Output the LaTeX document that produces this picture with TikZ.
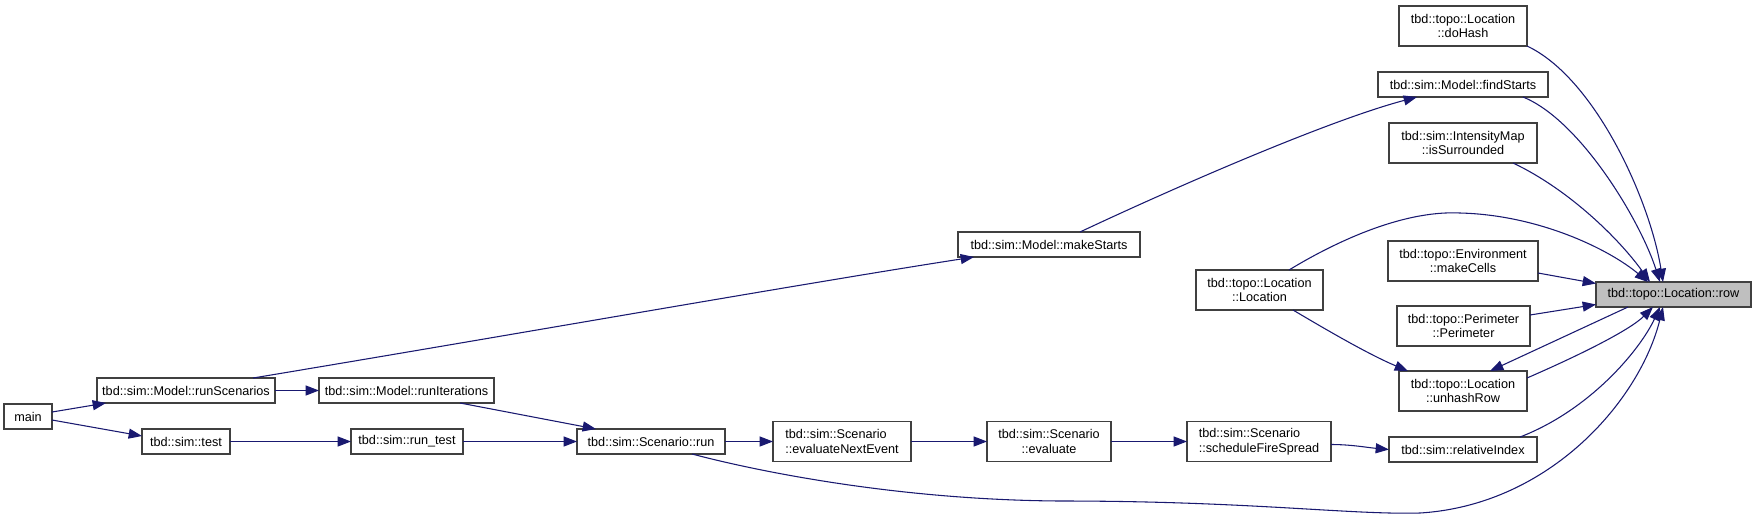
\documentclass[tikz,border=0pt]{standalone}
\usepackage{fontspec}
\setmainfont{Liberation Sans}
\usetikzlibrary{arrows.meta,calc}
\definecolor{edgeblue}{HTML}{191970}
\definecolor{boxborder}{HTML}{404040}
\definecolor{rootfill}{HTML}{BFBFBF}
\begin{document}
\begin{tikzpicture}[x=0.75pt,y=-0.75pt,
  fn/.style={draw=boxborder, fill=white, line width=0.8pt, inner sep=0pt, outer sep=0pt,
    font=\fontsize{9.5}{11}\selectfont, align=center, minimum height=18.75pt},
  fntwo/.style={fn, minimum height=30pt},
  cl/.style={draw=edgeblue, line width=0.8pt, -{Triangle[length=10pt,width=7.5pt]}}]
\fill[white] (0,0) rectangle (1756,518);
\useasboundingbox (0,0) rectangle (1756,518);

% nodes
\node[fn, minimum width=36pt] (main) at (28,416.5) {main};
\node[fn, minimum width=133.5pt] (runScen) at (186,390.5) {tbd::sim::Model::runScenarios};
\node[fn, minimum width=66pt] (test) at (186,441.5) {tbd::sim::test};
\node[fn, minimum width=131.25pt] (runIter) at (406.5,390.5) {tbd::sim::Model::runIterations};
\node[fn, minimum width=84pt] (runtest) at (407,441.5) {tbd::sim::run\_test};
\node[fn, minimum width=136.5pt] (makeStarts) at (1049,244.5) {tbd::sim::Model::makeStarts};
\node[fn, minimum width=111pt] (run) at (651,441.5) {tbd::sim::Scenario::run};
\node[fntwo, minimum width=103.5pt, align=left] (evalNext) at (842,441.5) {tbd::sim::Scenario\\::evaluateNextEvent};
\node[fntwo, minimum width=93pt] (evaluate) at (1049,441.5) {tbd::sim::Scenario\\::evaluate};
\node[fntwo, minimum width=108pt, align=left] (schedule) at (1259,441.5) {tbd::sim::Scenario\\::scheduleFireSpread};
\node[fntwo, minimum width=95.25pt] (loc) at (1259.5,290) {tbd::topo::Location\\::Location};
\node[fntwo, minimum width=96pt] (doHash) at (1463,26) {tbd::topo::Location\\::doHash};
\node[fn, minimum width=127.5pt] (findStarts) at (1463,84.5) {tbd::sim::Model::findStarts};
\node[fntwo, minimum width=111pt] (isSurr) at (1463,143) {tbd::sim::IntensityMap\\::isSurrounded};
\node[fntwo, minimum width=112.5pt] (makeCells) at (1463,261) {tbd::topo::Environment\\::makeCells};
\node[fntwo, minimum width=99.75pt] (perim) at (1463.5,326) {tbd::topo::Perimeter\\::Perimeter};
\node[fntwo, minimum width=96pt] (unhash) at (1463,391) {tbd::topo::Location\\::unhashRow};
\node[fn, minimum width=111pt] (relIdx) at (1463,449.5) {tbd::sim::relativeIndex};
\node[fn, minimum width=116.25pt, fill=rootfill] (row) at (1673.5,294.5) {tbd::topo::Location::row};

% connectors
\draw[cl] ($(main.east)+(0,-4.5)$) -- ($(runScen.south west)+(9,0)$);
\draw[cl] ($(main.east)+(0,3.5)$) -- ($(test.west)+(0,-5.5)$);
\draw[cl] (runScen.east) -- (runIter.west);
\draw[cl] ($(runScen.north east)+(-22,0)$) .. controls (500,337) and (800,284) .. ($(makeStarts.south west)+(16,0)$);
\draw[cl] ($(runIter.south east)+(-34,0)$) -- ($(run.north west)+(19,0)$);
\draw[cl] (test.east) -- (runtest.west);
\draw[cl] (runtest.east) -- (run.west);
\draw[cl] (run.east) -- (evalNext.west);
\draw[cl] (evalNext.east) -- (evaluate.west);
\draw[cl] (evaluate.east) -- (schedule.west);
\draw[cl] ($(schedule.east)+(0,3)$) .. controls +(20,0) and +(-22,-2) .. (relIdx.west);
\draw[cl] ($(run.south east)+(-33,0)$) .. controls (760,472) and (900,500) .. (1060,501)
  .. controls (1250,501) and (1350,515) .. (1420,513)
  .. controls (1550,505) and (1640,400) .. ($(row.south west)+(67,0)$);
\draw[cl] ($(relIdx.north east)+(-17,0)$) .. controls (1590,410) and (1640,350) .. ($(row.south west)+(64,0)$);
\draw[cl] ($(makeStarts.north west)+(122,0)$) .. controls (1180,185) and (1330,120) .. ($(findStarts.south west)+(39,0)$);
\draw[cl] ($(findStarts.south east)+(-25,0)$) .. controls (1580,120) and (1640,220) .. ($(row.north west)+(64,0)$);
\draw[cl] (doHash.south east) .. controls (1595,78) and (1650,200) .. ($(row.north west)+(67,0)$);
\draw[cl] ($(isSurr.south east)+(-24,0)$) .. controls (1570,190) and (1620,240) .. ($(row.north west)+(54,0)$);
\draw[cl] ($(loc.north west)+(93,0)$) .. controls (1330,245) and (1400,210) .. (1460,213)
  .. controls (1540,215) and (1610,250) .. ($(row.north west)+(52,0)$);
\draw[cl] ($(loc.south west)+(97,0)$) .. controls (1330,332) and (1370,355) .. ($(unhash.north west)+(9,0)$);
\draw[cl] ($(makeCells.east)+(0,12)$) -- ($(row.west)+(0,-11)$);
\draw[cl] ($(perim.east)+(0,-11)$) -- ($(row.west)+(0,10)$);
\draw[cl] ($(unhash.east)+(0,-13)$) .. controls (1580,355) and (1630,330) .. ($(row.south west)+(57,0)$);
\draw[cl] ($(row.south west)+(32,0)$) -- ($(unhash.north west)+(91,0)$);
\end{tikzpicture}
\end{document}
